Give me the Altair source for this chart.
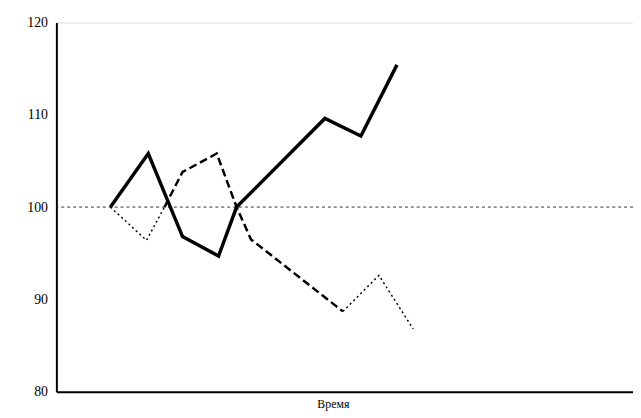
import altair as alt
import pandas as pd

# Time positions (arbitrary units) and index values
solid_t = [1.5, 2.55, 3.5, 4.5, 5.0, 7.45, 8.45, 9.45]
solid_v = [100, 105.8, 96.8, 94.7, 100, 109.6, 107.7, 115.4]

dashed_t = [3.0, 3.5, 4.45, 5.0, 5.4, 7.95]
dashed_v = [100, 103.8, 105.8, 100, 96.5, 88.7]

dotted1_t = [1.5, 2.5, 3.0]
dotted1_v = [100, 96.4, 100]

dotted2_t = [7.95, 8.95, 9.9]
dotted2_v = [88.7, 92.6, 86.8]

base_value = [100]
y_ticks = [80, 90, 100, 110, 120]

x_scale = alt.Scale(domain=[0, 16], nice=False, zero=False)
y_scale = alt.Scale(domain=[80, 120], nice=False, zero=False)

x_axis = alt.Axis(title="Время", labels=False, ticks=False, grid=False,
                  domainColor="black", domainWidth=2,
                  titleFont="Liberation Serif", titleFontSize=12,
                  titleFontWeight="normal", titleColor="black",
                  titlePadding=7, titleX=280)
y_axis = alt.Axis(title=None, values=y_ticks, ticks=False, grid=False,
                  domainColor="black", domainWidth=2,
                  labelFont="Liberation Serif", labelFontSize=14,
                  labelColor="black", labelPadding=9)

def seg(ts, vs):
    return pd.DataFrame({"t": ts, "v": vs})

solid = alt.Chart(seg(solid_t, solid_v)).mark_line(
    color="black", strokeWidth=3.5, strokeJoin="miter"
).encode(
    x=alt.X("t:Q", scale=x_scale, axis=x_axis),
    y=alt.Y("v:Q", scale=y_scale, axis=y_axis),
)

dashed = alt.Chart(seg(dashed_t, dashed_v)).mark_line(
    color="black", strokeWidth=2.5, strokeDash=[8, 4]
).encode(
    x=alt.X("t:Q", scale=x_scale),
    y=alt.Y("v:Q", scale=y_scale),
)

dotted1 = alt.Chart(seg(dotted1_t, dotted1_v)).mark_line(
    color="black", strokeWidth=1.5, strokeDash=[2, 3]
).encode(
    x=alt.X("t:Q", scale=x_scale),
    y=alt.Y("v:Q", scale=y_scale),
)

dotted2 = alt.Chart(seg(dotted2_t, dotted2_v)).mark_line(
    color="black", strokeWidth=1.5, strokeDash=[2, 3]
).encode(
    x=alt.X("t:Q", scale=x_scale),
    y=alt.Y("v:Q", scale=y_scale),
)

ref = alt.Chart(pd.DataFrame({"v": base_value})).mark_rule(
    color="#333333", strokeWidth=1, strokeDash=[3, 3]
).encode(
    y=alt.Y("v:Q", scale=y_scale),
)

chart = alt.layer(ref, dotted1, dotted2, dashed, solid).properties(
    width=584, height=374,
    autosize=alt.AutoSizeParams(type="none"),
    padding={"left": 49, "top": 12, "right": 0, "bottom": 24},
).configure_view(stroke=None).configure(background="white")

chart.save("out.html", embed_options={"renderer": "svg", "actions": False})
